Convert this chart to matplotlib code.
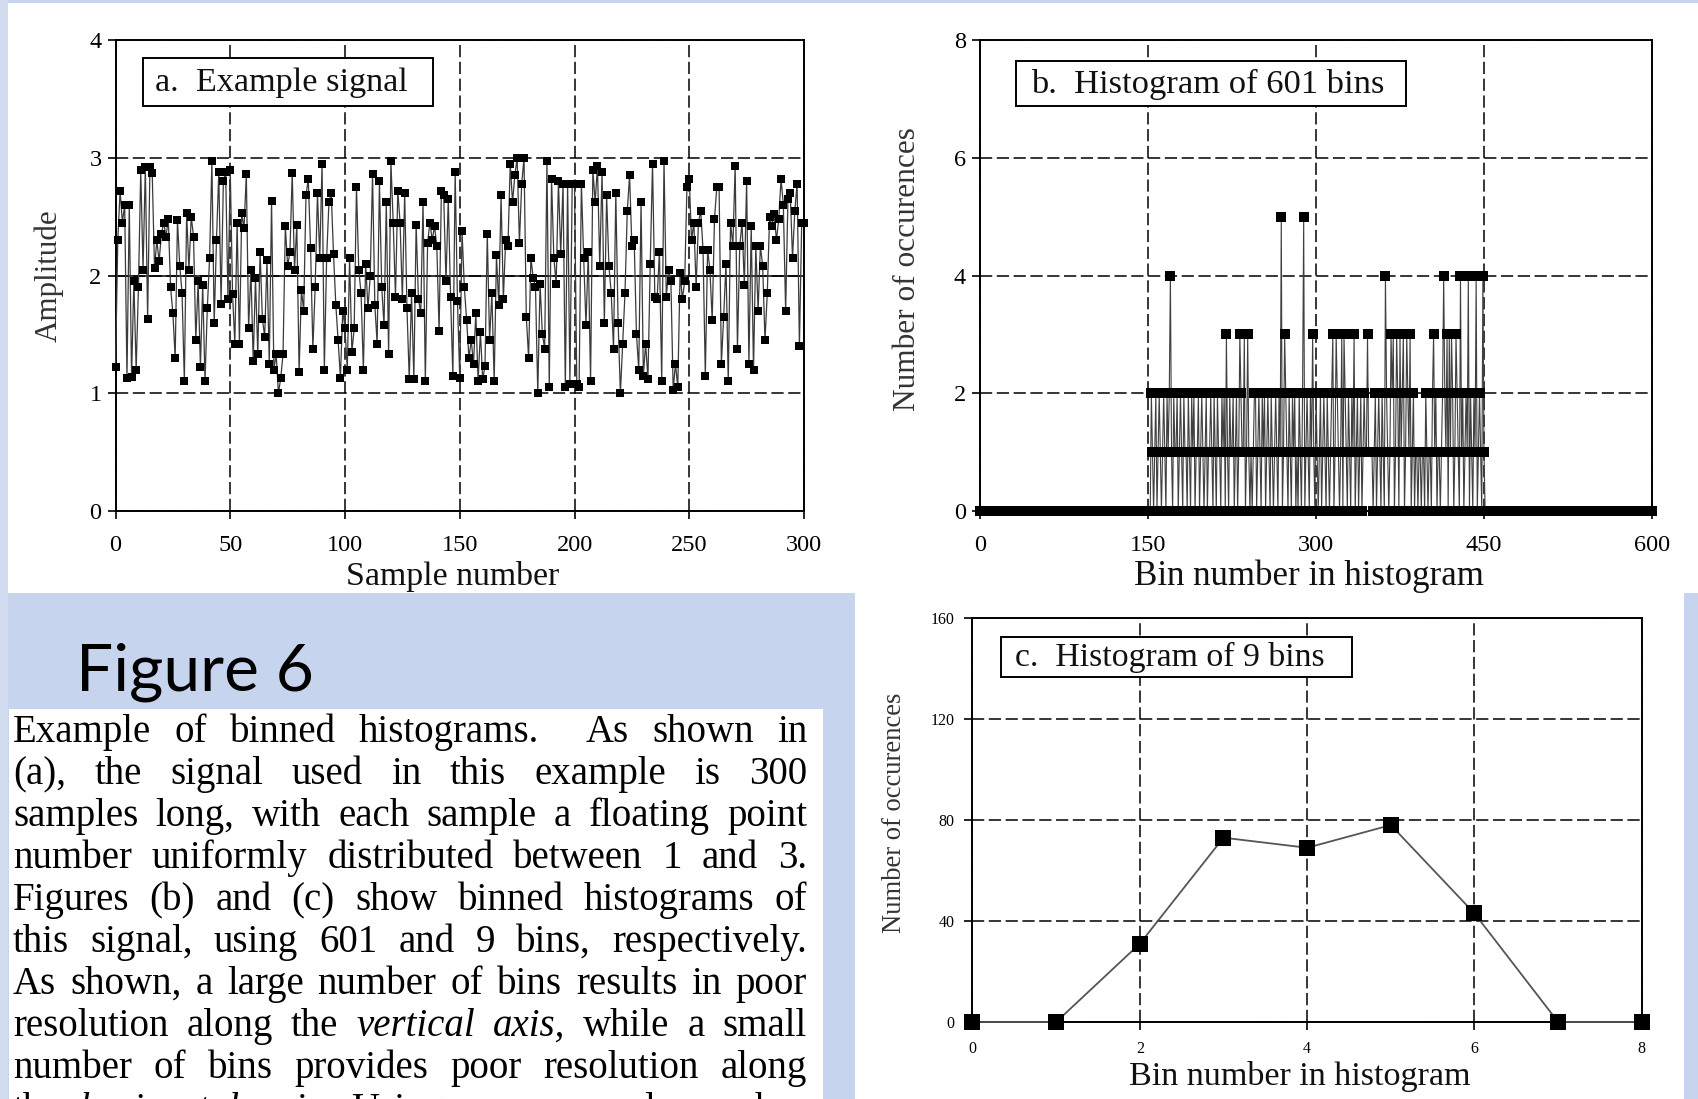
import numpy as np
import matplotlib
matplotlib.use("Agg")
import matplotlib.pyplot as plt
from matplotlib.patches import Rectangle

plt.rcParams['font.family'] = ['Liberation Serif', 'DejaVu Serif']

# ---------------- data ----------------
signal_a = [
    1.22, 2.30, 2.72, 2.45, 2.60, 1.13, 2.60, 1.14, 1.95, 1.20,
    1.90, 2.90, 2.05, 2.92, 1.63, 2.92, 2.87, 2.06, 2.30, 2.12,
    2.35, 2.45, 2.33, 2.48, 1.90, 1.68, 1.30, 2.47, 2.08, 1.85,
    1.10, 2.53, 2.05, 2.50, 2.33, 1.45, 1.95, 1.22, 1.92, 1.10,
    1.72, 2.15, 2.97, 1.60, 2.30, 2.88, 1.76, 2.80, 2.88, 1.80,
    2.90, 1.84, 1.42, 2.45, 1.42, 2.53, 2.40, 2.86, 1.55, 2.05,
    1.27, 1.98, 1.33, 2.20, 1.63, 1.48, 2.13, 1.25, 2.63, 1.20,
    1.33, 1.00, 1.13, 1.33, 2.42, 2.08, 2.20, 2.87, 2.05, 2.43,
    1.18, 1.88, 1.70, 2.68, 2.82, 2.23, 1.38, 1.90, 2.70, 2.15,
    2.95, 1.20, 2.15, 2.62, 2.70, 2.18, 1.75, 1.45, 1.13, 1.70,
    1.55, 1.20, 2.15, 1.35, 1.55, 2.75, 2.05, 1.85, 1.20, 2.10,
    1.72, 2.00, 2.86, 1.75, 1.42, 2.80, 1.90, 1.58, 2.62, 1.33,
    2.97, 2.45, 1.82, 2.72, 2.45, 1.80, 2.70, 1.72, 1.12, 1.85,
    1.12, 2.43, 1.80, 1.68, 2.62, 1.10, 2.28, 2.45, 2.30, 2.42,
    2.25, 1.53, 2.72, 2.68, 1.95, 2.65, 1.82, 1.15, 2.88, 1.78,
    1.13, 2.38, 1.90, 1.62, 1.30, 1.45, 1.25, 1.68, 1.10, 1.52,
    1.12, 1.23, 2.35, 1.45, 1.85, 1.10, 2.17, 1.75, 2.68, 1.80,
    2.30, 2.25, 2.95, 2.62, 2.85, 3.00, 2.28, 2.78, 3.00, 1.65,
    1.30, 2.15, 1.98, 1.90, 1.00, 1.93, 1.50, 1.38, 2.97, 1.05,
    2.82, 2.15, 1.93, 2.80, 2.18, 2.78, 1.05, 2.78, 1.08, 2.78,
    2.78, 1.08, 1.05, 2.78, 2.15, 1.58, 2.20, 1.10, 2.90, 2.62,
    2.93, 2.08, 2.88, 1.60, 2.68, 2.08, 1.85, 1.38, 2.70, 1.60,
    1.00, 1.42, 1.85, 2.55, 2.85, 2.25, 2.30, 1.50, 1.20, 2.62,
    1.15, 1.42, 1.12, 2.10, 2.95, 1.82, 1.80, 2.20, 1.10, 2.97,
    1.82, 2.05, 1.95, 1.03, 1.25, 1.05, 2.02, 1.80, 1.95, 2.75,
    2.82, 2.30, 2.45, 1.90, 2.45, 2.55, 2.22, 1.15, 2.22, 2.05,
    1.62, 2.48, 2.75, 2.75, 1.25, 1.65, 2.10, 1.10, 2.45, 2.25,
    2.93, 1.38, 2.25, 2.45, 1.92, 2.80, 1.25, 2.42, 1.20, 2.25,
    1.70, 2.25, 2.08, 1.45, 1.85, 2.50, 2.42, 2.52, 2.30, 2.48,
    2.82, 2.60, 1.70, 2.65, 2.70, 2.15, 2.55, 2.78, 1.40, 2.45,
    2.45,
]

hist601_nbins = 601
hist601_first_bin = 150          # counts below are for bins 150..450, all others are 0
hist601_counts = [
    0, 0, 0, 2, 1, 0, 1, 2, 0, 1,
    2, 1, 0, 1, 2, 1, 0, 2, 1, 2,
    4, 1, 0, 2, 1, 1, 2, 0, 1, 2,
    1, 0, 2, 1, 1, 0, 2, 1, 0, 2,
    1, 2, 0, 1, 1, 2, 0, 1, 2, 1,
    0, 1, 2, 0, 1, 1, 2, 1, 0, 2,
    1, 0, 2, 1, 1, 0, 2, 1, 2, 0,
    3, 1, 0, 2, 1, 1, 2, 0, 1, 2,
    0, 1, 3, 2, 1, 1, 3, 0, 1, 3,
    1, 0, 1, 0, 1, 2, 2, 0, 1, 2,
    1, 0, 2, 1, 2, 0, 1, 2, 1, 0,
    2, 1, 0, 1, 2, 1, 0, 2, 1, 5,
    0, 1, 3, 2, 1, 0, 2, 1, 0, 2,
    1, 2, 0, 1, 0, 2, 1, 0, 2, 5,
    0, 1, 2, 1, 0, 2, 1, 3, 1, 0,
    2, 1, 0, 1, 2, 0, 1, 2, 1, 0,
    2, 1, 0, 1, 2, 3, 0, 1, 3, 2,
    1, 0, 1, 3, 0, 3, 2, 1, 0, 2,
    1, 0, 2, 1, 3, 0, 1, 2, 0, 1,
    2, 0, 1, 2, 1, 1, 3, 1, 1, 1,
    1, 0, 1, 2, 0, 1, 2, 1, 0, 2,
    1, 0, 4, 2, 1, 0, 1, 3, 2, 3,
    0, 1, 3, 2, 0, 3, 1, 2, 3, 0,
    1, 3, 2, 1, 3, 0, 1, 2, 0, 1,
    1, 0, 1, 1, 0, 1, 1, 0, 2, 1,
    0, 1, 1, 0, 2, 3, 1, 2, 0, 1,
    1, 0, 1, 2, 4, 2, 1, 3, 0, 3,
    1, 3, 2, 0, 1, 3, 2, 1, 0, 4,
    1, 2, 0, 1, 2, 1, 4, 0, 2, 1,
    0, 2, 1, 4, 0, 1, 2, 1, 0, 4,
    1,
]

hist9_counts = [0, 0, 31, 73, 69, 78, 43, 0, 0]

a_xticks = [0, 50, 100, 150, 200, 250, 300]
a_yticks = [0, 1, 2, 3, 4]
b_xticks = [0, 150, 300, 450, 600]
b_yticks = [0, 2, 4, 6, 8]
c_xticks = [0, 2, 4, 6, 8]
c_yticks = [0, 40, 80, 120, 160]

title_a = "a.  Example signal"
title_b = "b.  Histogram of 601 bins"
title_c = "c.  Histogram of 9 bins"
xlabel_a = "Sample number"
ylabel_a = "Amplitude"
xlabel_bc = "Bin number in histogram"
ylabel_bc = "Number of occurences"
heading = "Figure 6"
caption_lines = [
    "Example of binned histograms.  As shown in",
    "(a), the signal used in this example is 300",
    "samples long, with each sample a floating point",
    "number uniformly distributed between 1 and 3.",
    "Figures (b) and (c) show binned histograms of",
    "this signal, using 601 and 9 bins, respectively.",
    "As shown, a large number of bins results in poor",
    "resolution along the _vertical _axis, while a small",
    "number of bins provides poor resolution along",
    "the _horizontal _axis. Using more samples makes",
]

# ---------------- figure ----------------
W, H = 1698, 1099
fig = plt.figure(figsize=(W / 100, H / 100), dpi=100)
fig.patch.set_facecolor('#C7D4EE')
R = fig.canvas.get_renderer()


def fx(x):
    return x / W


def fy(y):
    return 1 - y / H


def panel(x0, y0, x1, y1, color='white'):
    fig.add_artist(Rectangle((fx(x0), fy(y1)), (x1 - x0) / W, (y1 - y0) / H,
                             transform=fig.transFigure, facecolor=color,
                             edgecolor='none', zorder=-10))


panel(0, 0, 8, H, '#D2DCF1')
panel(8, 3, W, 593)
panel(855, 593, 1684, H)
panel(9, 709, 823, H)


def fit(t, target):
    bb = t.get_window_extent(renderer=R)
    L = max(bb.width, bb.height)
    t.set_fontsize(t.get_fontsize() * target / L)
    return t


def make_axes(x0, y0, x1, y1):
    ax = fig.add_axes([fx(x0), fy(y1), (x1 - x0) / W, (y1 - y0) / H])
    ax.set_facecolor('white')
    return ax


def style(ax, xticks, yticks, fs, xpad, ypad):
    ax.set_xticks(xticks)
    ax.set_yticks(yticks)
    ax.set_xticklabels([str(v) for v in xticks])
    ax.set_yticklabels([str(v) for v in yticks])
    ax.set_xlim(xticks[0], xticks[-1])
    ax.set_ylim(yticks[0], yticks[-1])
    ax.tick_params(axis='both', direction='out', width=1.2, length=6,
                   labelsize=fs, colors='black')
    ax.tick_params(axis='x', pad=xpad)
    ax.tick_params(axis='y', pad=ypad)
    for s in ax.spines.values():
        s.set_linewidth(1.4)
        s.set_color('black')
    ax.grid(True, color='black', linewidth=1.1, linestyle=(0, (8, 3)))
    ax.set_axisbelow(True)


# a. example signal
ax_a = make_axes(115.5, 40, 804, 511)
style(ax_a, a_xticks, a_yticks, 17.5, 11, 4)
ax_a.axhline(2, color='black', lw=1.1, zorder=1)
ax_a.plot(np.arange(len(signal_a)), signal_a, color='#3a3a3a', lw=0.9,
          marker='s', ms=6, mfc='black', mec='black', mew=0,
          clip_on=False, zorder=3)

# b. histogram of 601 bins
counts601 = np.zeros(hist601_nbins)
counts601[hist601_first_bin:hist601_first_bin + len(hist601_counts)] = hist601_counts
ax_b = make_axes(980, 40, 1652, 511)
style(ax_b, b_xticks, b_yticks, 17.5, 11, 4)
ax_b.plot(np.arange(hist601_nbins), counts601, color='#404040', lw=0.8,
          marker='s', ms=6.5, mfc='black', mec='black', mew=0,
          clip_on=False, zorder=3)

# c. histogram of 9 bins
ax_c = make_axes(972.5, 618, 1641.8, 1022)
style(ax_c, c_xticks, c_yticks, 11.5, 8, 7)
ax_c.plot(np.arange(len(hist9_counts)), hist9_counts, color='#555555', lw=1.3,
          marker='s', ms=12, mfc='black', mec='black', mew=0,
          clip_on=False, zorder=3)


# title boxes
def title_box(x0, y0, x1, y1, tx, text, target):
    fig.add_artist(Rectangle((fx(x0), fy(y1)), (x1 - x0) / W, (y1 - y0) / H,
                             transform=fig.transFigure, facecolor='white',
                             edgecolor='black', lw=1.4, zorder=5))
    t = fig.text(fx(tx), fy((y0 + y1) / 2 + 1), text, ha='left', va='center',
                 fontsize=22, color='#111111', zorder=6)
    fit(t, target)


title_box(143, 58.5, 433, 106, 155, title_a, 253)
title_box(1015.8, 60.6, 1405.6, 106.1, 1031, title_b, 351)
title_box(1000.6, 636.8, 1351.5, 676.8, 1015, title_c, 309)


# axis labels
def label(x, y, text, target, rot=0, color='#111111'):
    t = fig.text(fx(x), fy(y), text, ha='center', va='center', rotation=rot,
                 fontsize=22, color=color, zorder=6)
    fit(t, target)


label(453, 576, xlabel_a, 213)
label(49, 276, ylabel_a, 132, rot=90, color='#333333')
label(1309, 576, xlabel_bc, 349)
label(907.5, 269, ylabel_bc, 282, rot=90, color='#333333')
label(1299.5, 1077, xlabel_bc, 342)
label(894.5, 813, ylabel_bc, 240, rot=90, color='#333333')

# heading
th = fig.text(fx(76), fy(690), heading, ha='left', va='baseline',
              family=['Lato', 'DejaVu Sans'], fontsize=50, color='black')
fit(th, 238)


# justified caption
def parse(line):
    parts = line.split(' ')
    words, weights = [], []
    w = 1
    for p in parts:
        if p == '':
            w += 1
            continue
        if words:
            weights.append(w)
        w = 1
        words.append(p)
    return words, weights


def measure(word, fs):
    italic = word.startswith('_')
    txt = word[1:] if italic else word
    t = fig.text(0, 0, txt, fontsize=fs, style='italic' if italic else 'normal')
    wd = t.get_window_extent(renderer=R).width
    t.remove()
    return wd


x_left, x_right = 13, 807
base_fs = 26
nat = []
for line in caption_lines:
    words, weights = parse(line)
    nat.append(sum(measure(w, base_fs) for w in words) + sum(weights) * 0.2 * base_fs / 0.72)
cap_fs = min(28, base_fs * 792 / max(nat))

first_center, spacing = 731, 42
for i, line in enumerate(caption_lines):
    words, weights = parse(line)
    widths = [measure(w, cap_fs) for w in words]
    gap = (x_right - x_left - sum(widths)) / max(sum(weights), 1)
    x = x_left
    yb = first_center + i * spacing + 11
    for j, w in enumerate(words):
        italic = w.startswith('_')
        txt = w[1:] if italic else w
        fig.text(fx(x), fy(yb), txt, ha='left', va='baseline', fontsize=cap_fs,
                 style='italic' if italic else 'normal', color='black')
        x += widths[j]
        if j < len(weights):
            x += gap * weights[j]

fig.savefig('out.png', dpi=100, facecolor=fig.get_facecolor())
